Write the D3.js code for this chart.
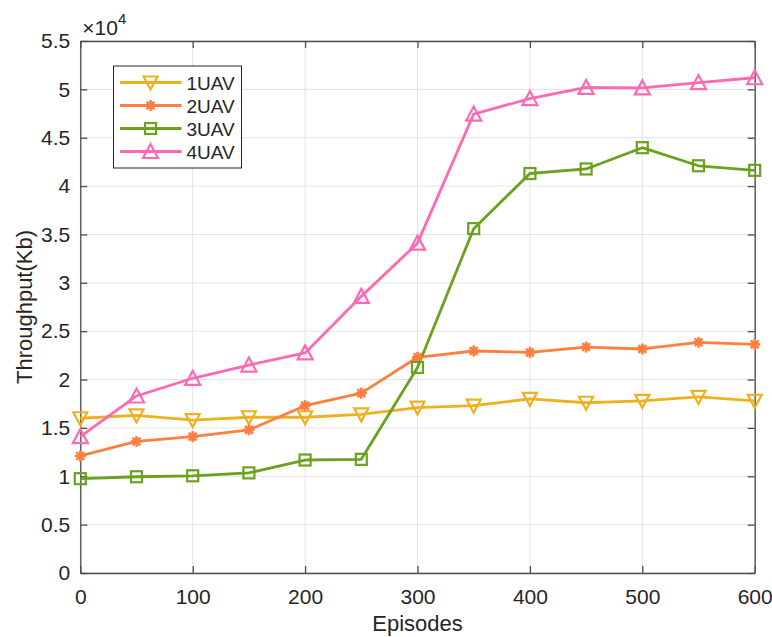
<!DOCTYPE html>
<html>
<head>
<meta charset="utf-8">
<script src="https://cdn.jsdelivr.net/npm/d3@7"></script>
<style>
  body { margin: 0; background: #fff; }
  text { font-family: "Liberation Sans", Arial, sans-serif; fill: #262626; }
</style>
</head>
<body>
<div id="chart"></div>
<script>
var width = 772;
var height = 637;
var margin = { top: 41, right: 17.3, bottom: 64, left: 80.3 };

// datos (x10^4 Kb)
var episodes = [0, 50, 100, 150, 200, 250, 300, 350, 400, 450, 500, 550, 600];
var uav1 = [1.60, 1.63, 1.58, 1.61, 1.61, 1.64, 1.71, 1.73, 1.80, 1.76, 1.78, 1.82, 1.78];
var uav2 = [1.21, 1.36, 1.41, 1.48, 1.73, 1.86, 2.23, 2.295, 2.28, 2.336, 2.316, 2.385, 2.364];
var uav3 = [0.975, 0.995, 1.005, 1.035, 1.168, 1.175, 2.125, 3.56, 4.13, 4.177, 4.397, 4.21, 4.163];
var uav4 = [1.41, 1.83, 2.013, 2.15, 2.275, 2.86, 3.41, 4.745, 4.905, 5.02, 5.015, 5.07, 5.12];
var xTicks = [0, 100, 200, 300, 400, 500, 600];
var yTicks = [0, 0.5, 1, 1.5, 2, 2.5, 3, 3.5, 4, 4.5, 5, 5.5];

var series = [
    { name: "1UAV", values: uav1, color: "#edb120", marker: "down" },
    { name: "2UAV", values: uav2, color: "#ff7f3f", marker: "star" },
    { name: "3UAV", values: uav3, color: "#6aa11e", marker: "square" },
    { name: "4UAV", values: uav4, color: "#ff69b4", marker: "up" }
];

var w = width - margin.left - margin.right;
var h = height - margin.top - margin.bottom;

var x = d3.scaleLinear().domain([0, 600]).range([0, w]);
var y = d3.scaleLinear().domain([0, 5.5]).range([h, 0]);

var svg = d3.select("#chart")
    .append("svg")
    .attr("width", width)
    .attr("height", height);

var g = svg.append("g")
    .attr("transform", "translate(" + margin.left + "," + margin.top + ")");

// grid
g.selectAll(".gx").data(xTicks).enter().append("line")
    .attr("x1", d => x(d)).attr("x2", d => x(d))
    .attr("y1", 0).attr("y2", h)
    .attr("stroke", "#e3e3e3").attr("stroke-width", 1);
g.selectAll(".gy").data(yTicks).enter().append("line")
    .attr("x1", 0).attr("x2", w)
    .attr("y1", d => y(d)).attr("y2", d => y(d))
    .attr("stroke", "#e3e3e3").attr("stroke-width", 1);

// ejes
var axisColor = "#4d4d4d";
var tickLen = 7;

var xAxis = g.append("g")
    .attr("transform", "translate(0," + h + ")")
    .call(d3.axisBottom(x).tickValues(xTicks).tickSizeInner(-tickLen).tickSizeOuter(0).tickPadding(16));
var xAxisTop = g.append("g")
    .call(d3.axisTop(x).tickValues(xTicks).tickSizeInner(-tickLen).tickSizeOuter(0).tickFormat(""));
var yAxis = g.append("g")
    .call(d3.axisLeft(y).tickValues(yTicks).tickSizeInner(-tickLen).tickSizeOuter(0).tickPadding(10).tickFormat(d3.format("")));
var yAxisRight = g.append("g")
    .attr("transform", "translate(" + w + ",0)")
    .call(d3.axisRight(y).tickValues(yTicks).tickSizeInner(-tickLen).tickSizeOuter(0).tickFormat(""));

[xAxis, xAxisTop, yAxis, yAxisRight].forEach(function (a) {
    a.select(".domain").attr("stroke", axisColor).attr("stroke-width", 1.3);
    a.selectAll(".tick line").attr("stroke", axisColor).attr("stroke-width", 1.3);
    a.selectAll(".tick text").attr("font-size", 21).attr("fill", "#262626")
        .attr("font-family", "Liberation Sans, Arial, sans-serif");
});

// exponente
var expo = g.append("text")
    .attr("x", 2).attr("y", -6)
    .attr("font-size", 21);
expo.append("tspan").text("\u00d710");
expo.append("tspan").attr("dy", -11).attr("font-size", 15).text("4");

// etiquetas
svg.append("text")
    .attr("x", margin.left + w / 2)
    .attr("y", 631)
    .attr("text-anchor", "middle")
    .attr("font-size", 22)
    .text("Episodes");

svg.append("text")
    .attr("transform", "translate(32," + (margin.top + h / 2) + ") rotate(-90)")
    .attr("text-anchor", "middle")
    .attr("font-size", 22)
    .text("Throughput(Kb)");

// marcadores
function drawMarker(sel, type, color) {
    if (type === "down") {
        sel.append("path").attr("d", "M-7,-6L7,-6L0,7Z");
    } else if (type === "up") {
        sel.append("path").attr("d", "M-7.5,6.5L7.5,6.5L0,-7.5Z");
    } else if (type === "square") {
        sel.append("rect").attr("x", -5.5).attr("y", -5.5).attr("width", 11).attr("height", 11);
    } else {
        for (var i = 0; i < 4; i++) {
            var a = i * Math.PI / 4;
            sel.append("line")
                .attr("x1", -5.5 * Math.cos(a)).attr("y1", -5.5 * Math.sin(a))
                .attr("x2", 5.5 * Math.cos(a)).attr("y2", 5.5 * Math.sin(a));
        }
    }
    sel.selectAll("path,rect").attr("fill", "none").attr("stroke", color).attr("stroke-width", 2.2);
    sel.selectAll("line").attr("stroke", color).attr("stroke-width", 2.6);
}

var line = d3.line()
    .x((d, i) => x(episodes[i]))
    .y(d => y(d));

series.forEach(function (s) {
    g.append("path")
        .attr("d", line(s.values))
        .attr("fill", "none")
        .attr("stroke", s.color)
        .attr("stroke-width", 2.8)
        .attr("stroke-linejoin", "round");
});

series.forEach(function (s) {
    g.selectAll(".m-" + s.name)
        .data(s.values)
        .enter()
        .append("g")
        .attr("transform", (d, i) => "translate(" + x(episodes[i]) + "," + y(d) + ")")
        .each(function () { drawMarker(d3.select(this), s.marker, s.color); });
});

// leyenda
var legend = svg.append("g").attr("transform", "translate(113.5,66)");
legend.append("rect")
    .attr("width", 128).attr("height", 102)
    .attr("fill", "#fff")
    .attr("stroke", "#262626").attr("stroke-width", 1);

series.forEach(function (s, i) {
    var row = legend.append("g").attr("transform", "translate(0," + (16.5 + i * 23) + ")");
    row.append("line")
        .attr("x1", 6.5).attr("x2", 68)
        .attr("stroke", s.color).attr("stroke-width", 2.8);
    var m = row.append("g").attr("transform", "translate(37,0)");
    drawMarker(m, s.marker, s.color);
    row.append("text")
        .attr("x", 73).attr("y", 7)
        .attr("font-size", 19)
        .text(s.name);
});
</script>
</body>
</html>
